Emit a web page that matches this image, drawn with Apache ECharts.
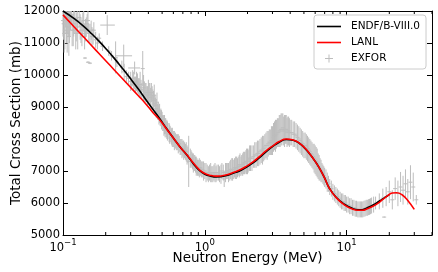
<!DOCTYPE html>
<html><head><meta charset="utf-8">
<script src="https://cdn.jsdelivr.net/npm/echarts@6/dist/echarts.min.js"></script>
<style>html,body{margin:0;padding:0;background:#fff}#c{width:438px;height:272px}</style>
</head><body><div id="c"></div>
<script>
// ENDF/B-VIII.0 evaluation (black)
const endfE = [0.1, 0.12, 0.14, 0.16, 0.18, 0.2, 0.23, 0.26, 0.3, 0.34, 0.38, 0.43, 0.48, 0.54, 0.6, 0.68, 0.75, 0.83, 0.92, 1.0, 1.1, 1.2, 1.3, 1.45, 1.6, 1.76, 2.0, 2.2, 2.43, 2.7, 3.0, 3.35, 3.75, 4.2, 4.66, 5.1, 5.47, 6.0, 6.43, 7.0, 7.56, 8.43, 9.64, 11.0, 12.0, 12.9, 14.0, 16.1, 18.0, 20.0];
const endfY = [12000, 11760, 11520, 11280, 11050, 10830, 10520, 10230, 9880, 9560, 9260, 8930, 8640, 8310, 8030, 7710, 7490, 7230, 7010, 6900, 6840, 6815, 6820, 6870, 6940, 7000, 7140, 7260, 7420, 7600, 7760, 7900, 7985, 7960, 7860, 7700, 7540, 7300, 7090, 6780, 6460, 6180, 5960, 5830, 5790, 5790, 5850, 5990, 6130, 6260];
// LANL evaluation (red)
const lanlE = [0.1, 0.12, 0.14, 0.16, 0.18, 0.2, 0.23, 0.26, 0.3, 0.34, 0.38, 0.43, 0.48, 0.54, 0.6, 0.68, 0.75, 0.83, 0.92, 1.0, 1.1, 1.2, 1.3, 1.45, 1.6, 1.76, 2.0, 2.2, 2.43, 2.7, 3.0, 3.35, 3.75, 4.2, 4.66, 5.1, 5.47, 6.0, 6.43, 7.0, 7.56, 8.43, 9.64, 11.0, 12.0, 12.9, 14.0, 16.1, 18.0, 19.5, 21.0, 22.5, 24.7, 27.0, 30.0];
const lanlY = [11880, 11500, 11185, 10908, 10665, 10447, 10158, 9905, 9609, 9350, 9120, 8830, 8600, 8300, 8030, 7710, 7500, 7250, 7030, 6920, 6860, 6840, 6845, 6890, 6960, 7030, 7170, 7290, 7450, 7630, 7780, 7920, 8000, 7970, 7865, 7710, 7550, 7300, 7090, 6780, 6460, 6170, 5940, 5810, 5775, 5775, 5820, 5950, 6110, 6230, 6310, 6320, 6250, 6080, 5800];
// EXFOR measurements (energy MeV, cross section mb, uncertainty mb)
const exforE = [
 0.100, 0.102, 0.104, 0.106, 0.108, 0.110, 0.112, 0.115, 0.118, 0.121,
 0.124, 0.127, 0.130, 0.134, 0.138, 0.142, 0.146, 0.150, 0.155, 0.160,
 0.165, 0.143, 0.150, 0.155,
 0.170, 0.175, 0.180, 0.190, 0.210, 0.220, 0.235, 0.240, 0.260, 0.270,
 0.280, 0.290, 0.300, 0.305,
 0.31, 0.32, 0.33, 0.34, 0.35, 0.36, 0.365, 0.37, 0.38, 0.39, 0.40,
 0.41, 0.42, 0.43, 0.44, 0.45, 0.46, 0.47, 0.48, 0.49, 0.50,
 0.51, 0.52, 0.53, 0.54, 0.55, 0.56, 0.57, 0.58, 0.59, 0.60,
 0.62, 0.64, 0.66, 0.68, 0.70, 0.72, 0.74, 0.76, 0.77, 0.80,
 0.82, 0.84, 0.86, 0.88, 0.90, 0.93, 0.96, 1.00,
 1.04, 1.08, 1.12, 1.16, 1.20, 1.25, 1.30, 1.35, 1.37, 1.40, 1.45, 1.50,
 1.55, 1.60, 1.65, 1.70, 1.75, 1.80, 1.85, 1.90, 1.95, 2.00,
 2.05, 2.10, 2.20, 2.30, 2.40, 2.50, 2.60, 2.70, 2.80, 2.90, 3.00,
 3.10, 3.20, 3.30, 3.40, 3.50, 3.60, 3.70, 3.80, 3.90, 4.00,
 4.20, 4.40, 4.60, 4.80, 5.00,
 5.20, 5.40, 5.60, 5.80, 6.00, 6.20, 6.40, 6.60, 6.80, 7.00, 7.30, 7.60, 8.00,
 8.40, 8.80, 9.20, 9.60, 10.0, 10.5, 11.0, 11.5, 12.0, 12.5, 13.0, 13.5, 14.0, 14.5, 15.0,
 16.0, 17.0, 18.0, 18.4, 19.0, 20.0, 21.0, 22.0, 23.0, 24.0, 25.0, 26.0, 27.0, 28.2, 29.5, 31.0,
 // second measurement set
 0.101, 0.103, 0.105, 0.107, 0.109, 0.111, 0.113, 0.116, 0.119, 0.123,
 0.126, 0.132, 0.136, 0.140, 0.144, 0.148, 0.152, 0.158, 0.163,
 0.315, 0.325, 0.335, 0.345, 0.355, 0.375, 0.385, 0.395, 0.405, 0.415, 0.425, 0.435, 0.445,
 0.455, 0.465, 0.475, 0.485, 0.495, 0.505, 0.515, 0.525, 0.535, 0.545,
 0.565, 0.585, 0.61, 0.63, 0.65, 0.67, 0.69, 0.71, 0.73, 0.75,
 0.79, 0.81, 0.83, 0.85, 0.87, 0.89, 0.915, 0.945, 0.98,
 1.02, 1.06, 1.10, 1.14, 1.18, 1.22, 1.27, 1.32, 1.42, 1.47,
 1.52, 1.57, 1.62, 1.67, 1.72, 1.77, 1.82, 1.87, 1.92, 1.97,
 2.02, 2.07, 2.15, 2.25, 2.35, 2.45, 2.55, 2.65, 2.75, 2.85, 2.95,
 3.05, 3.15, 3.25, 3.35, 3.45, 3.55, 3.65, 3.75, 3.85, 3.95,
 4.10, 4.30, 4.50, 4.70, 4.90,
 5.10, 5.30, 5.50, 5.70, 5.90, 6.10, 6.30, 6.50, 6.70, 6.90, 7.15, 7.45, 7.80,
 8.20, 8.60, 9.00, 9.40, 9.80, 10.25, 10.75, 11.25, 11.75, 12.25, 12.75, 13.25, 13.75, 14.25, 14.75, 15.5
];
const exforY = [
 11700, 11300, 11900, 11500, 11800, 11200, 11600, 11900, 11400, 11700,
 11500, 11300, 11800, 11400, 11600, 11200, 11500, 11700, 11300, 11200,
 11400, 10530, 10400, 10370,
 11100, 11000, 11150, 10900, 10750, 10600, 10550, 10400, 10250, 10100,
 9950, 9900, 9800, 9700,
 9900, 9750, 9800, 9650, 9700, 9500, 10200, 9600, 9450, 9400, 9500,
 9400, 9450, 9250, 9350, 9050, 9150, 8900, 8800, 8700, 8600,
 8500, 8450, 8400, 8300, 8250, 8200, 8150, 8100, 8050, 8000,
 7950, 7900, 7850, 7750, 7700, 7650, 7600, 7500, 7300, 7400,
 7300, 7250, 7200, 7150, 7100, 7100, 7050, 7000,
 6950, 6950, 6900, 6950, 6900, 6950, 6900, 6950, 6750, 6950, 7000, 7000,
 7050, 7050, 7100, 7100, 7150, 7150, 7200, 7250, 7300, 7300,
 7350, 7400, 7450, 7500, 7550, 7650, 7700, 7800, 7850, 7900, 7950,
 8100, 8150, 8200, 8250, 8300, 8250, 8300, 8200, 8250, 8200,
 8150, 8100, 8000, 7900, 7800,
 7750, 7650, 7550, 7450, 7350, 7250, 7100, 7000, 6900, 6800, 6650, 6500, 6350,
 6250, 6150, 6050, 6000, 5950, 5900, 5850, 5820, 5800, 5800, 5800, 5830, 5850, 5880, 5920,
 6000, 6050, 6150, 5560, 6200, 6350, 6100, 6450, 6300, 6500, 6400, 6600, 6350, 6650, 6500, 6100,
 // second measurement set
 11600, 11400, 11800, 11300, 11700, 11500, 11800, 11400, 11600, 11300,
 11700, 11500, 11300, 11700, 11400, 11600, 11300, 11400, 11200,
 9800, 9700, 9750, 9600, 9550, 9500, 9450, 9350, 9450, 9300, 9350, 9200, 9100,
 8950, 8850, 8750, 8650, 8600, 8500, 8400, 8350, 8300, 8250,
 8150, 8050, 7950, 7900, 7850, 7750, 7700, 7650, 7600, 7500,
 7400, 7350, 7250, 7250, 7150, 7100, 7100, 7050, 7000,
 6950, 6900, 6950, 6900, 6950, 6950, 6900, 7000, 7000, 6950,
 7050, 7050, 7100, 7100, 7150, 7200, 7200, 7250, 7250, 7300,
 7300, 7400, 7400, 7500, 7550, 7600, 7650, 7750, 7800, 7900, 7950,
 8050, 8100, 8200, 8250, 8300, 8350, 8250, 8300, 8250, 8200,
 8200, 8150, 8050, 7950, 7850,
 7800, 7700, 7600, 7500, 7400, 7300, 7150, 7050, 6950, 6850, 6750, 6600, 6450,
 6300, 6200, 6100, 6050, 6000, 5950, 5900, 5850, 5820, 5800, 5800, 5820, 5850, 5870, 5900, 5950
];
const exforErr = [
 500, 600, 400, 500, 500, 600, 400, 300, 500, 400,
 450, 500, 300, 400, 350, 400, 300, 350, 300, 300,
 250, 30, 30, 30,
 250, 200, 150, 150, 150, 150, 500, 150, 200, 250,
 200, 200, 300, 150,
 250, 200, 300, 250, 400, 250, 550, 400, 300, 250, 350,
 350, 300, 300, 350, 250, 300, 250, 300, 250, 250,
 250, 300, 250, 300, 250, 300, 250, 250, 300, 250,
 250, 250, 250, 250, 250, 250, 300, 250, 800, 250,
 250, 250, 250, 250, 250, 250, 250, 250,
 250, 250, 250, 250, 250, 250, 300, 250, 250, 300, 250, 300,
 350, 300, 350, 300, 350, 300, 350, 350, 350, 400,
 350, 400, 350, 400, 400, 400, 400, 400, 400, 400, 450,
 450, 450, 450, 500, 500, 450, 450, 450, 450, 400,
 400, 400, 400, 400, 400,
 400, 400, 400, 400, 450, 450, 400, 350, 300, 300, 300, 250, 250,
 250, 250, 250, 250, 250, 250, 250, 250, 250, 250, 250, 250, 250, 250, 250,
 200, 250, 300, 20, 300, 350, 300, 350, 400, 470, 450, 450, 400, 530, 450, 150,
 // second measurement set
 500, 600, 500, 600, 500, 500, 400, 500, 400, 500,
 400, 400, 400, 350, 350, 300, 300, 300, 250,
 300, 250, 300, 300, 300, 300, 300, 300, 300, 300, 300, 300, 300,
 300, 250, 300, 250, 300, 250, 300, 300, 250, 300,
 300, 250, 300, 250, 300, 250, 300, 300, 250, 300,
 300, 250, 300, 250, 300, 250, 300, 250, 300,
 300, 250, 300, 250, 300, 250, 250, 250, 250, 300,
 300, 350, 300, 350, 300, 350, 300, 350, 350, 400,
 350, 400, 400, 400, 400, 400, 450, 400, 450, 400, 450,
 450, 500, 450, 500, 500, 450, 500, 450, 450, 450,
 400, 400, 400, 400, 400,
 400, 400, 400, 400, 450, 450, 400, 350, 300, 300, 300, 250, 250,
 250, 250, 250, 250, 250, 250, 250, 250, 250, 250, 250, 250, 250, 250, 250, 250
];
// EXFOR points with energy resolution bars
const bigE = [0.205, 0.268, 0.32];
const bigY = [11560, 10600, 10220];
const bigErr = [310, 350, 200];
const bigELo = [0.183, 0.233, 0.288];
const bigEHi = [0.232, 0.307, 0.35];
// axis ticks
const xMinorTicks = [0.2, 0.3, 0.4, 0.5, 0.6, 0.7, 0.8, 0.9, 2, 3, 4, 5, 6, 7, 8, 9, 20, 30, 40];
const yMin = 5000, yMax = 12000, yStep = 1000;
const xMin = 0.1, xMax = 40;

const FONT = 'DejaVu Sans';
const GRAY = '#bdbdbd';

const chart = echarts.init(document.getElementById('c'), null, {renderer: 'canvas'});

function errRender(params, api) {
  const cs = params.coordSys;
  const e = api.value(0), y = api.value(1), err = api.value(2);
  const lo = api.value(3), hi = api.value(4);
  const c = api.coord([e, y]);
  const t = api.coord([e, y + err]);
  const b = api.coord([e, y - err]);
  const y1 = Math.max(t[1], cs.y), y2 = Math.min(b[1], cs.y + cs.height);
  const style = {stroke: GRAY, lineWidth: 1};
  const kids = [];
  if (y2 > y1) kids.push({type: 'line', shape: {x1: c[0], y1: y1, x2: c[0], y2: y2}, style: style});
  if (c[1] >= cs.y && c[1] <= cs.y + cs.height) {
    let xa = c[0] - 2, xb = c[0] + 2;
    if (lo !== undefined && lo !== null && !isNaN(lo)) { xa = api.coord([lo, y])[0]; xb = api.coord([hi, y])[0]; }
    kids.push({type: 'line', shape: {x1: xa, y1: c[1], x2: xb, y2: c[1]}, style: style});
  }
  return {type: 'group', children: kids};
}

function minorRender(params, api) {
  const cs = params.coordSys;
  const x = api.coord([api.value(0), yMin])[0];
  const st = {stroke: '#000', lineWidth: 1};
  return {type: 'group', children: [
    {type: 'line', shape: {x1: x, y1: cs.y + cs.height, x2: x, y2: cs.y + cs.height - 3}, style: st},
    {type: 'line', shape: {x1: x, y1: cs.y, x2: x, y2: cs.y + 3}, style: st}
  ]};
}

function xLabel(v) {
  const l = Math.log10(v);
  const e = Math.round(l);
  if (Math.abs(l - e) > 1e-6) return '';
  return '{b|10}{s|' + (e < 0 ? '\u2212' : '') + Math.abs(e) + '}';
}

const axisCommon = {
  axisLine: {show: true, lineStyle: {color: '#000', width: 1}},
  splitLine: {show: false},
  minorTick: {show: false},
  minorSplitLine: {show: false}
};

const LINE_ICON = 'path://M0,0L0,0M24,10L24,10M0,4.2h24v1.6h-24z';
const PLUS_ICON = 'path://M0,0L0,0M24,10L24,10M8,4.5h8v1h-8zM11.5,1h1v8h-1z';

const option = {
  animation: false,
  backgroundColor: '#fff',
  textStyle: {fontFamily: FONT},
  grid: {left: 63, right: 6, top: 11, bottom: 37, containLabel: false, outerBoundsMode: 'none'},
  xAxis: [
    Object.assign({}, axisCommon, {
      type: 'log', logBase: 10, min: xMin, max: xMax, position: 'bottom',
      axisTick: {show: true, inside: true, length: 5, lineStyle: {color: '#000'}},
      axisLabel: {formatter: xLabel, margin: 3, showMaxLabel: false, color: '#000',
        rich: {
          b: {fontFamily: FONT, fontSize: 11.5, color: '#000', lineHeight: 16, verticalAlign: 'bottom'},
          s: {fontFamily: FONT, fontSize: 8.5, color: '#000', lineHeight: 9, verticalAlign: 'top'}
        }},
      name: 'Neutron Energy (MeV)', nameLocation: 'middle', nameGap: 16, nameMoveOverlap: false,
      nameTextStyle: {fontFamily: FONT, fontSize: 13.5, color: '#000'}
    }),
    Object.assign({}, axisCommon, {
      type: 'log', logBase: 10, min: xMin, max: xMax, position: 'top',
      axisTick: {show: true, inside: true, length: 5, lineStyle: {color: '#000'}},
      axisLabel: {show: false}
    })
  ],
  yAxis: [
    Object.assign({}, axisCommon, {
      type: 'value', min: yMin, max: yMax, interval: yStep, position: 'left',
      axisTick: {show: true, inside: true, length: 5, lineStyle: {color: '#000'}},
      axisLabel: {margin: 3, color: '#000', fontFamily: FONT, fontSize: 11.5, formatter: v => String(v)},
      name: 'Total Cross Section (mb)', nameLocation: 'middle', nameGap: 40, nameMoveOverlap: false,
      nameTextStyle: {fontFamily: FONT, fontSize: 13.5, color: '#000'}
    }),
    Object.assign({}, axisCommon, {
      type: 'value', min: yMin, max: yMax, interval: yStep, position: 'right',
      axisTick: {show: true, inside: true, length: 5, lineStyle: {color: '#000'}},
      axisLabel: {show: false}
    })
  ],
  legend: {
    left: 314, top: 15, orient: 'vertical',
    itemWidth: 24, itemHeight: 10, itemGap: 5,
    padding: [6, 6, 5, 3],
    borderColor: '#cccccc', borderWidth: 1, borderRadius: 3,
    backgroundColor: 'rgba(255,255,255,0.85)',
    textStyle: {fontFamily: FONT, fontSize: 10.5, color: '#000', padding: [0, 0, 0, 5]},
    data: [
      {name: 'ENDF/B-VIII.0', icon: LINE_ICON, itemStyle: {color: '#000'}},
      {name: 'LANL', icon: LINE_ICON, itemStyle: {color: '#ff0000'}},
      {name: 'EXFOR', icon: PLUS_ICON, itemStyle: {color: GRAY}}
    ]
  },
  series: [
    {
      type: 'custom', name: 'EXFOR', xAxisIndex: 0, yAxisIndex: 0,
      itemStyle: {color: GRAY}, z: 1, silent: true,
      encode: {x: 0, y: 1},
      data: exforE.map((e, i) => [e, exforY[i], exforErr[i]]),
      renderItem: errRender
    },
    {
      type: 'custom', name: 'EXFOR', xAxisIndex: 0, yAxisIndex: 0,
      itemStyle: {color: GRAY}, z: 1, silent: true,
      encode: {x: 0, y: 1},
      data: bigE.map((e, i) => [e, bigY[i], bigErr[i], bigELo[i], bigEHi[i]]),
      renderItem: errRender
    },
    {
      type: 'line', name: 'ENDF/B-VIII.0', xAxisIndex: 0, yAxisIndex: 0,
      data: endfE.map((e, i) => [e, endfY[i]]),
      showSymbol: false, symbol: 'none', smooth: 0.5,
      lineStyle: {color: '#000', width: 1.6}, itemStyle: {color: '#000'}, z: 3, silent: true
    },
    {
      type: 'line', name: 'LANL', xAxisIndex: 0, yAxisIndex: 0,
      data: lanlE.map((e, i) => [e, lanlY[i]]),
      showSymbol: false, symbol: 'none', smooth: 0.5,
      lineStyle: {color: '#ff0000', width: 1.6}, itemStyle: {color: '#ff0000'}, z: 4, silent: true
    },
    {
      type: 'custom', name: 'minorTicks', xAxisIndex: 0, yAxisIndex: 0,
      encode: {x: 0, y: 1}, z: 5, silent: true,
      data: xMinorTicks.map(v => [v, yMin]),
      renderItem: minorRender
    }
  ]
};
chart.setOption(option);
</script>
</body></html>
